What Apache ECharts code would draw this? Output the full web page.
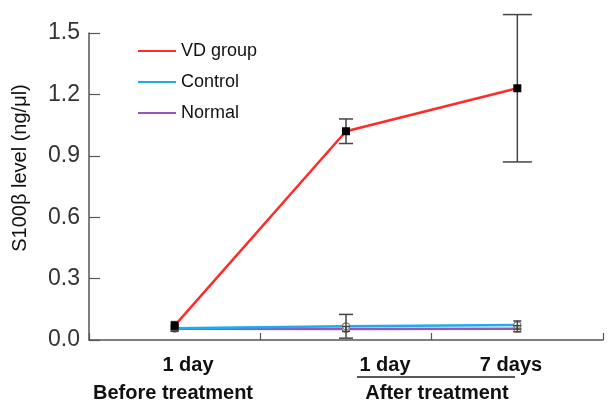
<!DOCTYPE html>
<html>
<head>
<meta charset="utf-8">
<script src="https://cdn.jsdelivr.net/npm/echarts@6/dist/echarts.min.js"></script>
<style>html,body{margin:0;padding:0;background:#fff;}#c{width:614px;height:404px;}</style>
</head>
<body>
<div id="c"></div>
<script>
// ---- data ----
var categories = ['1 day', '1 day', '7 days'];
var groupLabels = ['Before treatment', 'After treatment'];
var seriesNames = ['VD group', 'Control', 'Normal'];
var vdValues = [0.07, 1.02, 1.23];
var vdErrors = [0.02, 0.06, 0.36];
var controlValues = [0.058, 0.067, 0.073];
var controlErrors = [0.015, 0.058, 0.02];
var normalValues = [0.055, 0.054, 0.055];
var normalErrors = [0.012, 0.012, 0.015];
var yTicks = { min: 0, max: 1.5, interval: 0.3 };

var FONT = 'Arial, "Liberation Sans", Helvetica, sans-serif';
var RED = '#ff2a2a', BLUE = '#19aef0', PURPLE = '#9b55b5';

function errData(vals, errs) {
  return vals.map(function (v, i) { return [i, v - errs[i], v + errs[i]]; });
}

function errSeries(vals, errs, capScale) {
  return {
    type: 'custom',
    z: 4,
    silent: true,
    data: errData(vals, errs),
    renderItem: function (params, api) {
      var lo = api.coord([api.value(0), api.value(1)]);
      var hi = api.coord([api.value(0), api.value(2)]);
      var half = capScale(params.dataIndex, hi[1] - lo[1]);
      var st = { stroke: '#444', lineWidth: 1.5 };
      return {
        type: 'group',
        children: [
          { type: 'line', shape: { x1: lo[0], y1: lo[1], x2: hi[0], y2: hi[1] }, style: st },
          { type: 'line', shape: { x1: lo[0] - half, y1: lo[1], x2: lo[0] + half, y2: lo[1] }, style: st },
          { type: 'line', shape: { x1: hi[0] - half, y1: hi[1], x2: hi[0] + half, y2: hi[1] }, style: st }
        ]
      };
    }
  };
}
function capFn(i, len) { return Math.abs(len) > 100 ? 14.5 : (Math.abs(len) > 10 ? 7 : 4); }

var chart = echarts.init(document.getElementById('c'), null, { renderer: 'canvas' });

var xCenters = [188, 385, 511];
var LABEL_FONT = 'bold 20px ' + FONT;
var graphics = [];
categories.forEach(function (c, i) {
  graphics.push({ type: 'text', x: xCenters[i], y: 365, style: { text: c, font: LABEL_FONT, fill: '#111', align: 'center', verticalAlign: 'middle' } });
});
graphics.push({ type: 'line', shape: { x1: 357, y1: 377, x2: 515, y2: 377 }, style: { stroke: '#222', lineWidth: 1.5 } });
graphics.push({ type: 'text', x: 173, y: 393, style: { text: groupLabels[0], font: LABEL_FONT, fill: '#111', align: 'center', verticalAlign: 'middle' } });
graphics.push({ type: 'text', x: 437, y: 393, style: { text: groupLabels[1], font: LABEL_FONT, fill: '#111', align: 'center', verticalAlign: 'middle' } });
graphics.push({ type: 'text', x: 20, y: 168, rotation: Math.PI / 2, style: { text: 'S100\u03b2 level (ng/\u03bcl)', font: '20px ' + FONT, fill: '#111', align: 'center', verticalAlign: 'middle' } });

var option = {
  backgroundColor: '#fff',
  animation: false,
  grid: { left: 89, right: 11, top: 33, bottom: 64 },
  legend: {
    orient: 'vertical',
    left: 133,
    top: 37,
    itemWidth: 38,
    itemHeight: 2,
    itemGap: 13,
    icon: 'rect',
    textStyle: { fontSize: 18, fontFamily: FONT, color: '#111', lineHeight: 18 },
    data: [
      { name: seriesNames[0], itemStyle: { color: RED, borderWidth: 0 } },
      { name: seriesNames[1], itemStyle: { color: BLUE, borderWidth: 0 } },
      { name: seriesNames[2], itemStyle: { color: PURPLE, borderWidth: 0 } }
    ]
  },
  xAxis: {
    type: 'category',
    data: categories,
    boundaryGap: true,
    axisLine: { show: true, lineStyle: { color: '#555', width: 1.5 } },
    axisTick: { show: true, inside: true, length: 7, lineStyle: { color: '#555', width: 1.2 } },
    axisLabel: { show: false },
    splitLine: { show: false }
  },
  yAxis: {
    type: 'value',
    min: yTicks.min,
    max: yTicks.max,
    interval: yTicks.interval,
    axisLine: { show: true, lineStyle: { color: '#555', width: 1.5 } },
    axisTick: { show: true, inside: true, length: 11, lineStyle: { color: '#555', width: 1.2 } },
    axisLabel: { fontSize: 23, fontFamily: FONT, color: '#333', margin: 9, formatter: function (v) { return v.toFixed(1); } },
    splitLine: { show: false }
  },
  series: [
    {
      name: seriesNames[2], type: 'line', data: normalValues,
      symbol: 'circle', symbolSize: 7, showSymbol: true,
      lineStyle: { color: PURPLE, width: 2.5 },
      itemStyle: { color: '#fff', borderColor: '#888', borderWidth: 1.2 }, z: 2
    },
    {
      name: seriesNames[1], type: 'line', data: controlValues,
      symbol: 'circle', symbolSize: 7, showSymbol: true,
      lineStyle: { color: BLUE, width: 2.5 },
      itemStyle: { color: '#fff', borderColor: '#888', borderWidth: 1.2 }, z: 3
    },
    errSeries(normalValues, normalErrors, capFn),
    errSeries(controlValues, controlErrors, capFn),
    errSeries(vdValues, vdErrors, capFn),
    {
      name: seriesNames[0], type: 'line', data: vdValues,
      symbol: 'rect', symbolSize: 8, showSymbol: true,
      lineStyle: { color: RED, width: 2.5 },
      itemStyle: { color: '#000' }, z: 5
    }
  ],
  graphic: graphics
};
chart.setOption(option);
</script>
</body>
</html>
